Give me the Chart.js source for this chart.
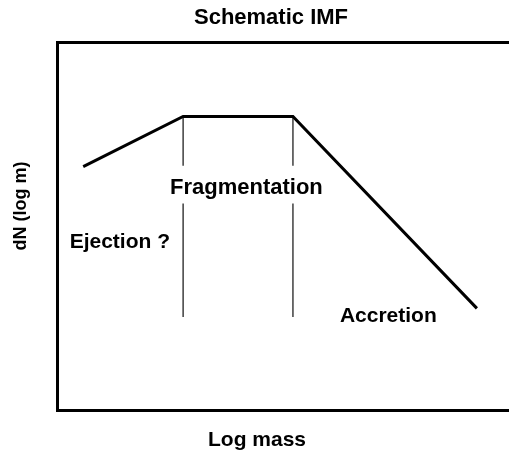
<!DOCTYPE html>
<html>
<head>
<meta charset="utf-8">
<script src="https://cdn.jsdelivr.net/npm/chart.js@4/dist/chart.umd.min.js"></script>
<style>
  body { margin: 0; background: #fff; }
  canvas { display: block; }
</style>
</head>
<body>
<canvas id="imfChart" width="509" height="450"></canvas>
<script>
// schematic IMF, arbitrary units (x = log mass, y = dN/dlog m)
const massPoints = [0.58, 2.79, 5.22, 9.29];
const imfValues = [5.29, 6.38, 6.38, 2.21];

// thin vertical markers at the two break points, split around the label
const breakMasses = [2.79, 5.22];
const markerTop = [6.38, 5.31];
const markerBottom = [4.49, 2.02];

const regionLabels = ['Ejection ?', 'Fragmentation', 'Accretion'];
const regionLabelX = [1.39, 4.19, 7.33];
const regionLabelY = [3.53, 4.70, 1.91];

const FONT = '"Liberation Sans", Arial, Helvetica, sans-serif';

const markerData = [];
breakMasses.forEach(m => {
    markerData.push({ x: m, y: markerTop[0] }, { x: m, y: markerTop[1] }, { x: m, y: null });
    markerData.push({ x: m, y: markerBottom[0] }, { x: m, y: markerBottom[1] }, { x: m, y: null });
});

// text drawn on top of the plot
const textPlugin = {
    id: 'imfText',
    afterDraw(chart) {
        const c = chart.ctx;
        const xs = chart.scales.x, ys = chart.scales.y;
        c.save();
        c.fillStyle = '#000';
        c.textAlign = 'center';
        c.textBaseline = 'alphabetic';

        regionLabels.forEach((t, i) => {
            c.font = (i === 1 ? 'bold 22px ' : 'bold 21px ') + FONT;
            c.fillText(t, xs.getPixelForValue(regionLabelX[i]), ys.getPixelForValue(regionLabelY[i]));
        });

        c.font = 'bold 22px ' + FONT;
        c.fillText('Schematic IMF', 271, 24);
        c.font = 'bold 21px ' + FONT;
        c.fillText('Log mass', 257, 446);

        c.font = 'bold 18px ' + FONT;
        c.translate(26, 206);
        c.rotate(-Math.PI / 2);
        c.fillText('dN (log m)', 0, 0);
        c.restore();
    }
};

const axisBorder = { display: true, color: '#000', width: 3 };

new Chart(document.getElementById('imfChart'), {
    type: 'line',
    data: {
        datasets: [{
            data: massPoints.map((m, i) => ({ x: m, y: imfValues[i] })),
            borderColor: '#000',
            borderWidth: 3,
            borderJoinStyle: 'miter',
            pointRadius: 0,
            tension: 0
        }, {
            data: markerData,
            borderColor: '#222',
            borderWidth: 1.3,
            pointRadius: 0,
            spanGaps: false
        }]
    },
    options: {
        responsive: false,
        animation: false,
        layout: { padding: { left: 49, top: 34, bottom: 32, right: 0 } },
        plugins: { legend: { display: false }, tooltip: { enabled: false }, title: { display: false } },
        scales: {
            x: {
                type: 'linear', min: 0, max: 10,
                ticks: { display: false }, grid: { display: false }, border: axisBorder
            },
            xTop: {
                type: 'linear', position: 'top', min: 0, max: 10,
                ticks: { display: false }, grid: { display: false }, border: axisBorder
            },
            y: {
                type: 'linear', min: 0, max: 8,
                ticks: { display: false }, grid: { display: false }, border: axisBorder
            }
        }
    },
    plugins: [textPlugin]
});
</script>
</body>
</html>
